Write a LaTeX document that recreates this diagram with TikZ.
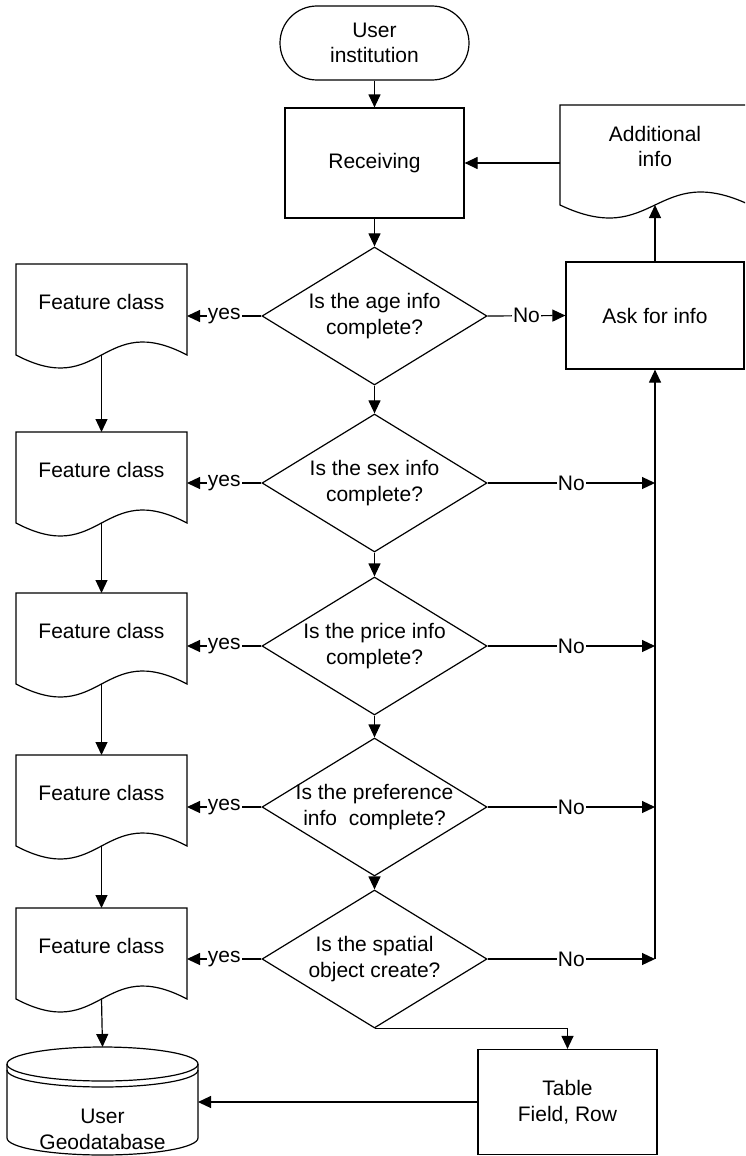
\documentclass[tikz,border=0pt]{standalone}
\usepackage{fontspec}
\setmainfont{Liberation Sans}
\usetikzlibrary{shapes.geometric,arrows.meta,calc}

% outline of a document symbol drawn around an (invisible) rectangular node
\newcommand\docoutline[1]{%
  \draw (#1.south west) -- (#1.north west) -- (#1.north east) -- (#1.south east)
    .. controls ($(#1.south)+(0,-45)$) and ($(#1.south)+(0,45)$) .. (#1.south west) -- cycle;}

\begin{document}
\begin{tikzpicture}[x=1pt,y=-1pt,
  line width=1.2pt,
  every node/.style={font=\fontsize{21}{25.5}\selectfont, align=center},
  box/.style={draw, rectangle, inner sep=0pt},
  terminal/.style={draw, rectangle, rounded corners=37pt, minimum width=189pt, minimum height=74pt, inner sep=0pt},
  decision/.style={draw, diamond, minimum width=225pt, minimum height=138pt, inner sep=0pt},
  docbody/.style={rectangle, minimum width=171pt, minimum height=91pt, inner sep=0pt, outer sep=0pt},
  lbl/.style={fill=white, inner sep=1pt},
  arr/.style={-{Triangle[length=13pt,width=12pt]}},
]
\useasboundingbox (0,0) rectangle (745,1156);
\fill[white] (0,0) rectangle (745,1156);
\clip (0,0) rectangle (745,1156);

% main column
\node[terminal] (user) at (374.5,43) {User\\institution};
\node[box, minimum width=179pt, minimum height=110pt] (recv) at (374.5,163) {Receiving};

\node[decision] (d1) at (374.5,316) {};
\node (d1t) at (d1) {Is the age info\\complete?};
\node[decision] (d2) at (374.5,483) {};
\node (d2t) at (d2) {Is the sex info\\complete?};
\node[decision] (d3) at (374.5,646) {};
\node (d3t) at (d3) {Is the price info\\complete?};
\node[decision] (d4) at (374.5,807) {};
\node (d4t) at (d4) {Is the preference\\info~~complete?};
\node[decision] (d5) at (374.5,959) {};
\node (d5t) at (d5) {Is the spatial\\object create?};

% right column
\node[docbody, minimum width=190pt, minimum height=100pt] (add) at (655,155) {};
\docoutline{add}
\node (addt) at (655,146.5) {Additional\\info};
\node[box, minimum width=178pt, minimum height=107pt] (ask) at (655,315.5) {Ask for info};
\node[box, minimum width=179pt, minimum height=105pt] (tab) at (567.5,1102) {Table\\Field, Row};

% left column: feature classes
\foreach \i/\y in {1/309.5, 2/477.5, 3/638.5, 4/800.5, 5/953.5} {
  \node[docbody] (f\i) at (101.5,\y) {};
  \docoutline{f\i}
  \node (f\i t) at ($(f\i.center)+(0,-7.5)$) {Feature class};
}

% database
\node[rectangle, minimum width=191pt, minimum height=109pt, inner sep=0pt, outer sep=0pt] (db) at (102.5,1101.5) {};
\draw (102.5,1064) ellipse[x radius=95.5, y radius=17];
\draw (7,1070) .. controls (7,1079.4) and (49.75,1087) .. (102.5,1087)
               .. controls (155.25,1087) and (198,1079.4) .. (198,1070);
\draw (7,1064) -- (7,1138) .. controls (7,1147.4) and (49.75,1155) .. (102.5,1155)
               .. controls (155.25,1155) and (198,1147.4) .. (198,1138) -- (198,1064);
\node (dbt) at (102.5,1129.5) {User\\Geodatabase};

% connectors
\draw[arr] (user) -- (recv);
\draw[arr] (recv) -- (d1);
\draw[arr] (d1) -- (d2);
\draw[arr] (d2) -- (d3);
\draw[arr] (d3) -- (d4);
\draw[arr] (d4) -- (d5);

\draw[arr] (d1.east) -- node[lbl] (n1) {No} (ask.west);
\coordinate (rb) at (ask.south |- d5.east);
\draw[arr] (d2.east) -- node[lbl] (n2) {No} (d2.east -| rb);
\draw[arr] (d3.east) -- node[lbl] (n3) {No} (d3.east -| rb);
\draw[arr] (d4.east) -- node[lbl] (n4) {No} (d4.east -| rb);
\draw[arr] (d5.east) -- node[lbl] (n5) {No} (rb);
\draw[arr] (rb) -- (ask.south);
\draw[arr] (ask.north) -- (add.south);
\draw[arr] (recv.east -| add.west) -- (recv.east);

\foreach \i in {1,...,5} {
  \draw[arr] (d\i.west) -- node[lbl] (y\i) {yes} (d\i.west -| f\i.east);
}
\draw[arr] (f1.south) -- (f2.north);
\draw[arr] (f2.south) -- (f3.north);
\draw[arr] (f3.south) -- (f4.north);
\draw[arr] (f4.south) -- (f5.north);
\draw[arr] (f5.south) -- (db.north);

\draw[arr] (d5.south) -| (tab.north);
\draw[arr] (tab.west) -- (tab.west -| db.east);
\end{tikzpicture}
\end{document}
